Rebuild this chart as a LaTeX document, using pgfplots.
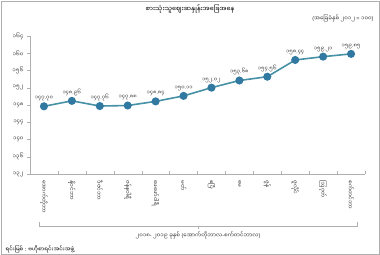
\documentclass[border=0pt]{standalone}
\usepackage{fontspec}
\usepackage{pgfplots}
\pgfplotsset{compat=1.18}
\setmainfont{Liberation Sans}
\newfontfamily\my[Script=Myanmar]{Noto Sans Myanmar UI}
\newcommand\p[1]{{\rmfamily #1}}
\newcommand\dt{{\rmfamily .}}
\definecolor{lc}{RGB}{70,145,165}
\definecolor{mc}{RGB}{49,121,161}
\definecolor{ax}{RGB}{175,175,175}
\definecolor{tx}{RGB}{50,50,50}
\begin{document}
\begin{tikzpicture}[x=1bp,y=1bp]
\useasboundingbox (0,0) rectangle (380,255);
\draw[ax] (1,1) rectangle (379,254);
\begin{axis}[at={(30bp,81bp)}, anchor=south west, scale only axis,
  width=335bp, height=138bp, clip=false,
  xmin=-0.5, xmax=11.5, ymin=132, ymax=164,
  axis x line*=bottom, axis y line*=left,
  axis line style={ax},
  ytick={132,136,...,164},
  yticklabels={၁၃၂,၁၃၆,၁၄၀,၁၄၄,၁၄၈,၁၅၂,၁၅၆,၁၆၀,၁၆၄},
  y tick label style={font=\my\fontsize{5.5}{6}\selectfont, text=tx},
  ytick style={ax}, tick align=outside, major tick length=3bp,
  xtick={0,...,11},
  xticklabels={အောက်တိုဘာ,နိုဝင်ဘာ,ဒီဇင်ဘာ,ဇန်နဝါရီ,ဖေဖော်ဝါရီ,မတ်,ဧပြီ,မေ,ဇွန်,ဇူလိုင်,ဩဂုတ်,စက်တင်ဘာ},
  x tick label style={rotate=-90, anchor=west, font=\my\fontsize{5.5}{6}\selectfont, text=tx},
  xtick style={draw=none},
  extra x ticks={-0.5,0.5,...,11.5},
  extra x tick labels={},
  extra x tick style={tick align=inside, major tick length=3bp, xtick style={draw=ax}},
]
\addplot[lc, line width=1.6bp, mark=*, mark size=3.2bp,
  mark options={fill=mc, draw=mc},
  nodes near coords, point meta=explicit symbolic,
  every node near coord/.append style={font=\my\fontsize{5.2}{6}\selectfont, text=tx, anchor=south, yshift=1bp}]
coordinates {
(0,147.70) [၁၄၇\dt ၇၀]
(1,148.96) [၁၄၈\dt ၉၆]
(2,147.76) [၁၄၇\dt ၇၆]
(3,147.88) [၁၄၇\dt ၈၈]
(4,148.84) [၁၄၈\dt ၈၄]
(5,150.11) [၁၅၀\dt ၁၁]
(6,152.02) [၁၅၂\dt ၀၂]
(7,153.68) [၁၅၃\dt ၆၈]
(8,154.56) [၁၅၄\dt ၅၆]
(9,158.44) [၁၅၈\dt ၄၄]
(10,159.21) [၁၅၉\dt ၂၁]
(11,159.85) [၁၅၉\dt ၈၅]
};
\end{axis}
\draw[ax] (39,33) -- (39,29) -- (357,29) -- (357,33);
\draw[ax] (198,29) -- (198,26);
\node[font=\my\fontsize{5.5}{6}\selectfont, text=tx] at (198,20) {၂၀၁၈\p{- }၂၀၁၉ ခုနှစ် \p{(}အောက်တိုဘာလ\p{-}စက်တင်ဘာလ\p{)}};
\node[font=\my\fontsize{6.5}{7}\selectfont, text=black] at (190,246) {စားသုံးသူဈေးဆနှုန်းအခြေအနေ};
\node[font=\my\fontsize{5.5}{6}\selectfont, text=tx, anchor=east] at (377,237) {\p{(}အခြေခံနှစ် ၂၀၁၂ \p{=} ၁၀၀\p{)}};
\node[font=\my\fontsize{5.5}{6}\selectfont, text=black, anchor=west] at (2,6) {ရင်းမြစ် \p{:} ဗဟိုစာရင်းအင်းအဖွဲ့};
\end{tikzpicture}
\end{document}
